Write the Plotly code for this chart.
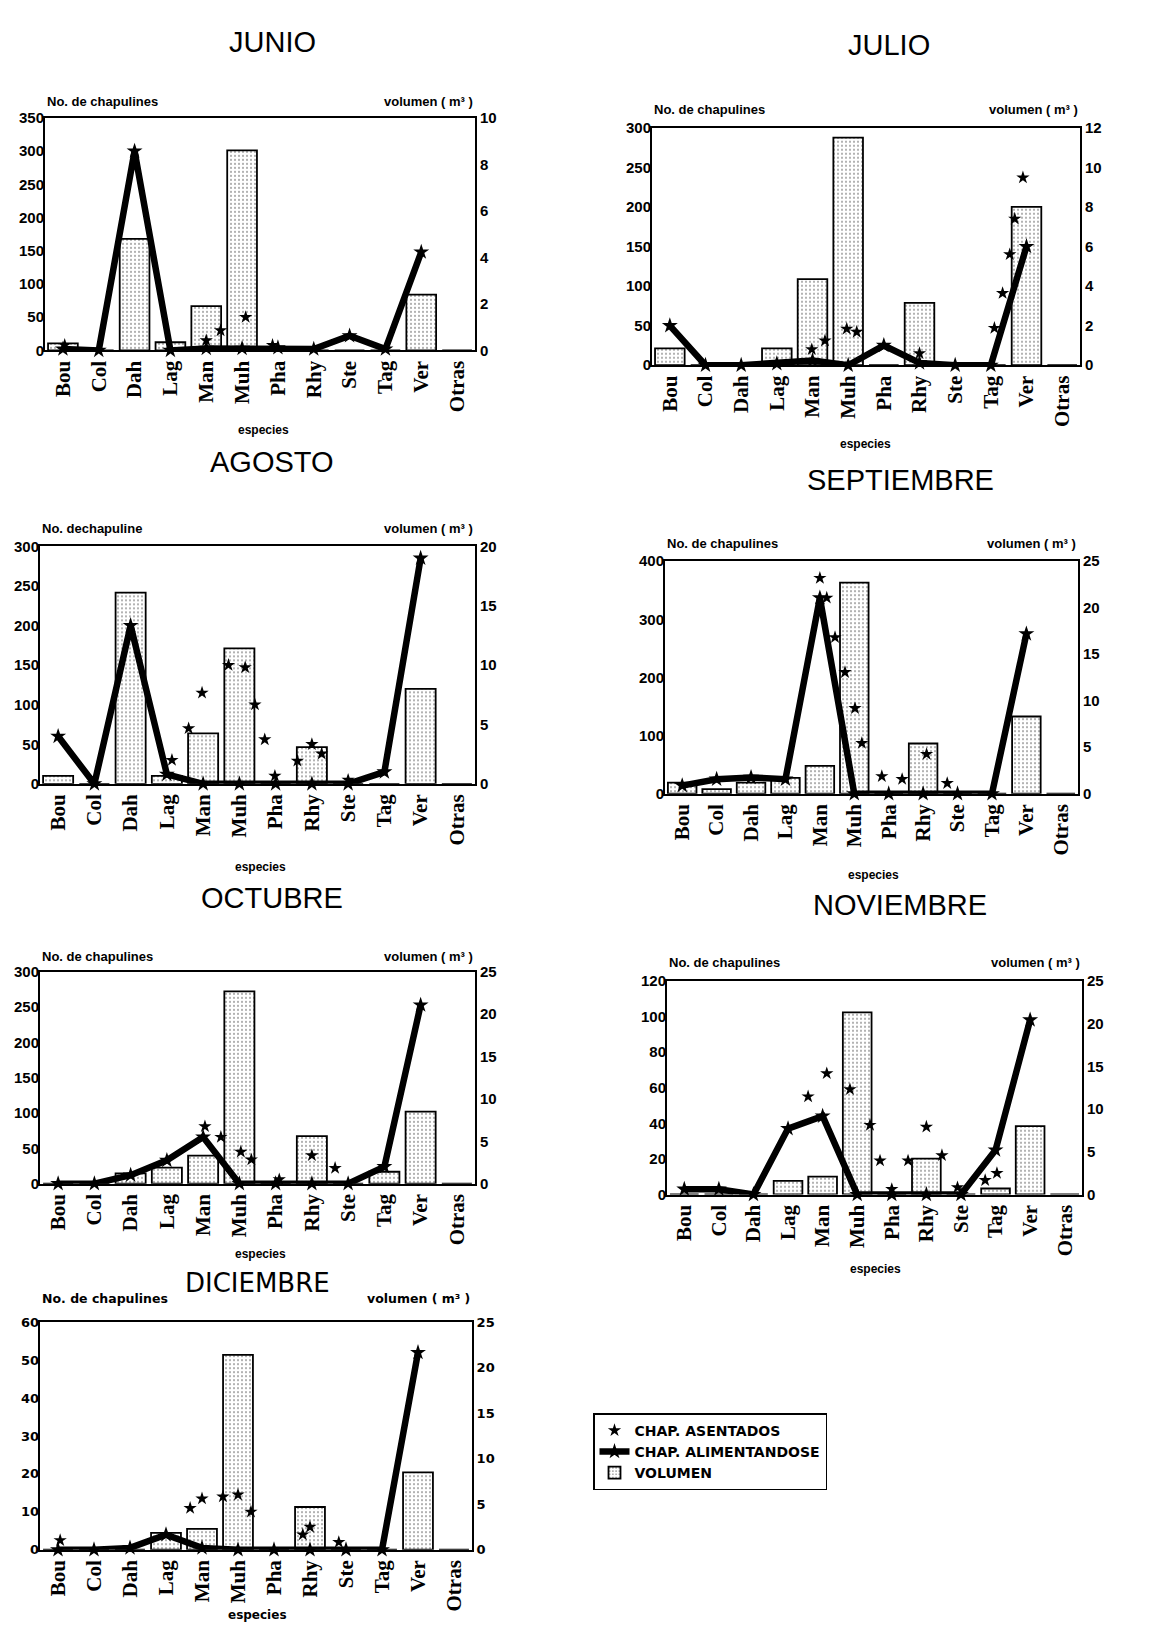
import plotly.graph_objects as go

W, H = 1164, 1631

categorias = ["Bou", "Col", "Dah", "Lag", "Man", "Muh", "Pha", "Rhy", "Ste", "Tag", "Ver", "Otras"]

# volumen (m3) por especie, eje derecho
vol_junio = [0.3, 0, 4.8, 0.35, 1.9, 8.6, 0, 0, 0, 0, 2.4, 0]
vol_julio = [0.85, 0, 0, 0.85, 4.35, 11.5, 0, 3.15, 0, 0, 8.0, 0]
vol_agosto = [0.67, 0, 16.1, 0.67, 4.25, 11.4, 0, 3.1, 0, 0, 8.0, 0]
vol_sept = [1.2, 0.5, 1.2, 1.7, 3.0, 22.7, 0, 5.4, 0, 0, 8.3, 0]
vol_oct = [0, 0, 1.2, 1.9, 3.3, 22.7, 0, 5.6, 0, 1.4, 8.5, 0]
vol_nov = [0, 0, 0, 1.6, 2.1, 21.3, 0, 4.2, 0, 0.7, 8.0, 0]
vol_dic = [0, 0, 0, 1.85, 2.3, 21.4, 0, 4.7, 0, 0, 8.5, 0]

# chapulines alimentandose por especie, eje izquierdo
alim_junio = [2, 0, 300, 0, 3, 3, 4, 2, 22, 2, 148, None]
alim_julio = [50, 0, 0, 2, 6, 0, 25, 3, 0, 0, 150, None]
alim_agosto = [60, 0, 200, 12, 0, 0, 0, 0, 0, 15, 285, None]
alim_sept = [14, 25, 28, 25, 337, 0, 0, 0, 0, 0, 275, None]
alim_oct = [0, 0, 12, 33, 66, 0, 0, 0, 0, 24, 253, None]
alim_nov = [3, 3, 0, 37, 44, 0, 0, 0, 0, 25, 98, None]
alim_dic = [0, 0, 0.5, 4, 0.5, 0, 0, 0, 0, 0, 52, None]

# chapulines asentados (posicion sobre el eje de especies y numero)
asent_junio_x = [0.05, 4.0, 4.4, 5.1, 5.85]
asent_junio_y = [8, 15, 30, 50, 8]
asent_julio_x = [3.98, 4.35, 4.96, 5.24, 7.0, 9.1, 9.33, 9.53, 9.67, 9.9]
asent_julio_y = [20, 31, 46, 42, 15, 47, 91, 140, 185, 237]
asent_agosto_x = [3.14, 3.6, 3.97, 4.7, 5.16, 5.43, 5.7, 5.98, 6.6, 7.0, 7.27, 8.0]
asent_agosto_y = [30, 70, 115, 150, 147, 100, 56, 10, 29, 50, 38, 5]
asent_sept_x = [4.0, 4.2, 4.44, 4.73, 5.02, 5.22, 5.8, 6.39, 7.1, 7.7]
asent_sept_y = [371, 337, 269, 209, 147, 87, 30, 25, 68, 18]
asent_oct_x = [4.05, 4.49, 5.04, 5.33, 6.1, 7.0, 7.64]
asent_oct_y = [81, 66, 45, 34, 6, 40, 22]
asent_nov_x = [3.58, 4.12, 4.79, 5.37, 5.66, 6.0, 6.47, 7.0, 7.45, 7.9, 8.7, 9.04]
asent_nov_y = [55, 68, 59, 39, 19, 3, 19, 38, 22, 4, 8, 12]
asent_dic_x = [0.06, 3.67, 4.0, 4.58, 5.0, 5.36, 6.8, 7.0, 7.8]
asent_dic_y = [2.5, 11, 13.5, 14, 14.5, 10, 4, 6, 2]

SANS = "Liberation Sans"
SERIF = "Liberation Serif"
WIDE = "DejaVu Sans"

paneles = [
    dict(titulo="JUNIO", vol=vol_junio, alim=alim_junio, ax=asent_junio_x, ay=asent_junio_y,
         ymax=350, ydt=50, vmax=10, vdt=2, box=(45, 475, 110, 345), ylab="No. de chapulines",
         tx=272, ty=33, lab_y=93, esp=(263, 425), fam=SANS),
    dict(titulo="JULIO", vol=vol_julio, alim=alim_julio, ax=asent_julio_x, ay=asent_julio_y,
         ymax=300, ydt=50, vmax=12, vdt=2, box=(652, 1080, 120, 360), ylab="No. de chapulines",
         tx=889, ty=36, lab_y=102, esp=(865, 440), fam=SANS),
    dict(titulo="AGOSTO", vol=vol_agosto, alim=alim_agosto, ax=asent_agosto_x, ay=asent_agosto_y,
         ymax=300, ydt=50, vmax=20, vdt=5, box=(40, 475, 543, 783), ylab="No. dechapuline",
         tx=272, ty=458, lab_y=525, esp=(260, 867), fam=SANS),
    dict(titulo="SEPTIEMBRE", vol=vol_sept, alim=alim_sept, ax=asent_sept_x, ay=asent_sept_y,
         ymax=400, ydt=100, vmax=25, vdt=5, box=(665, 1078, 558, 793), ylab="No. de chapulines",
         tx=900, ty=476, lab_y=540, esp=(873, 875), fam=SANS),
    dict(titulo="OCTUBRE", vol=vol_oct, alim=alim_oct, ax=asent_oct_x, ay=asent_oct_y,
         ymax=300, ydt=50, vmax=25, vdt=5, box=(40, 475, 973, 1187), ylab="No. de chapulines",
         tx=272, ty=898, lab_y=957, esp=(260, 1258), fam=SANS),
    dict(titulo="NOVIEMBRE", vol=vol_nov, alim=alim_nov, ax=asent_nov_x, ay=asent_nov_y,
         ymax=120, ydt=20, vmax=25, vdt=5, box=(667, 1082, 982, 1198), ylab="No. de chapulines",
         tx=900, ty=905, lab_y=964, esp=(875, 1273), fam=SANS),
    dict(titulo="DICIEMBRE", vol=vol_dic, alim=alim_dic, ax=asent_dic_x, ay=asent_dic_y,
         ymax=60, ydt=10, vmax=25, vdt=5, box=(40, 472, 1327, 1557), ylab="No. de chapulines",
         tx=257, ty=1287, lab_y=1303, esp=(257, 1623), fam=WIDE),
]

n = len(paneles)
fig = go.Figure()
layout = dict(
    width=W, height=H, autosize=False,
    margin=dict(l=0, r=0, t=0, b=0),
    paper_bgcolor="white", plot_bgcolor="rgba(0,0,0,0)",
    annotations=[],
)


def px(x):
    return x / W


def py(y):
    return 1 - y / H


for i, p in enumerate(paneles, start=1):
    xs = "x" if i == 1 else f"x{i}"
    yb = "y" if i == 1 else f"y{i}"
    yo = f"y{i + n}"
    x0, x1, y0, y1 = p["box"]
    fam = p["fam"]
    tick_sz = 13 if fam == WIDE else 15

    # volumen: barras punteadas sobre el eje base (derecho)
    fig.add_trace(go.Bar(
        x=list(range(len(categorias))), y=p["vol"], xaxis=xs, yaxis=yb,
        width=0.83, name="VOLUMEN", legendgroup="vol", showlegend=(i == 1),
        marker=dict(color="white", line=dict(color="black", width=1.8),
                    pattern=dict(shape=".", fgcolor="#333333", bgcolor="white",
                                 size=4, solidity=0.2)),
    ))
    # chapulines alimentandose: linea gruesa
    fig.add_trace(go.Scatter(
        x=list(range(len(categorias))), y=p["alim"], xaxis=xs, yaxis=yo,
        mode="lines+markers", name="CHAP. ALIMENTANDOSE", legendgroup="alim",
        showlegend=(i == 1), cliponaxis=False,
        line=dict(color="black", width=6.5),
        marker=dict(symbol="star", size=12, color="black"),
    ))
    # chapulines asentados: marcas sueltas
    fig.add_trace(go.Scatter(
        x=p["ax"], y=p["ay"], xaxis=xs, yaxis=yo,
        mode="markers", name="CHAP. ASENTADOS", legendgroup="asent",
        showlegend=(i == 1), cliponaxis=False,
        marker=dict(symbol="star", size=10, color="black"),
    ))

    xkey = "xaxis" if i == 1 else f"xaxis{i}"
    ybkey = "yaxis" if i == 1 else f"yaxis{i}"
    yokey = f"yaxis{i + n}"
    layout[xkey] = dict(
        domain=[px(x0), px(x1)], anchor=yb, range=[-0.5, 11.5],
        tickmode="array", tickvals=list(range(len(categorias))), ticktext=categorias,
        tickangle=-90, ticks="", showgrid=False, zeroline=False,
        showline=True, mirror=True, linecolor="black", linewidth=2,
        tickfont=dict(family=SERIF, size=21, color="black", weight="bold"),
    )
    layout[ybkey] = dict(
        domain=[py(y1), py(y0)], anchor=xs, side="right", range=[0, p["vmax"]],
        dtick=p["vdt"], ticks="", showgrid=False, zeroline=False,
        showline=True, mirror=True, linecolor="black", linewidth=2,
        tickfont=dict(family=fam, size=tick_sz, color="black", weight="bold"),
    )
    layout[yokey] = dict(
        overlaying=yb, anchor=xs, side="left", range=[0, p["ymax"]],
        dtick=p["ydt"], ticks="", showgrid=False, zeroline=False, showline=False,
        tickfont=dict(family=fam, size=tick_sz, color="black", weight="bold"),
    )

    title_font = dict(family=fam, size=26 if fam == WIDE else 29, color="black")
    small = dict(family=fam, size=12.5 if fam == WIDE else 13, color="black", weight="bold")
    layout["annotations"] += [
        dict(text=p["titulo"], x=px(p["tx"]), y=py(p["ty"]), xref="paper", yref="paper",
             xanchor="center", yanchor="middle", showarrow=False, font=title_font),
        dict(text=p["ylab"], x=px(x0), y=py(p["lab_y"]), xref="paper", yref="paper",
             xanchor="left", yanchor="middle", showarrow=False, font=small),
        dict(text="volumen ( m³ )", x=px(x1), y=py(p["lab_y"]), xref="paper",
             yref="paper", xanchor="right", yanchor="middle", showarrow=False, font=small),
        dict(text="especies", x=px(p["esp"][0]), y=py(p["esp"][1]), xref="paper",
             yref="paper", xanchor="center", yanchor="middle", showarrow=False,
             font=dict(family=fam, size=12, color="black", weight="bold")),
    ]

layout["legend"] = dict(
    x=px(593), y=py(1419), xanchor="left", yanchor="top",
    bgcolor="white", bordercolor="black", borderwidth=1.5,
    font=dict(family=WIDE, size=14, color="black", weight="bold"),
    traceorder="reversed", itemwidth=30, tracegroupgap=0,
)

fig.update_layout(**layout)
fig.write_html("out.html")
